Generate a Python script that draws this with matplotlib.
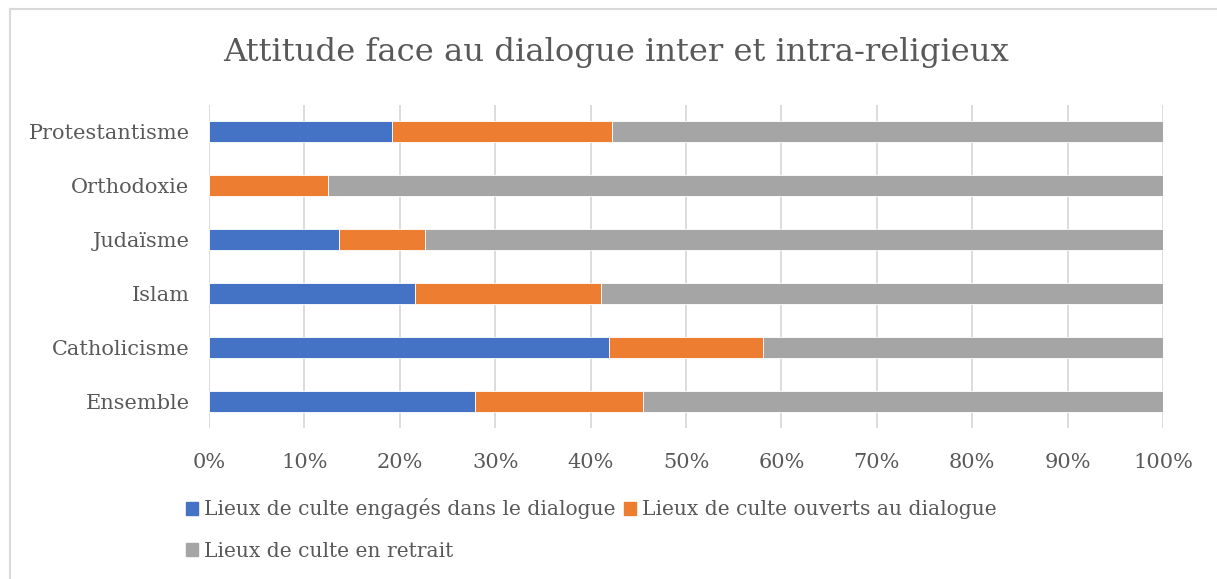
import matplotlib.pyplot as plt
from matplotlib.patches import Patch
from matplotlib.lines import Line2D
import numpy as np

categories = ['Ensemble', 'Catholicisme', 'Islam', 'Judaïsme', 'Orthodoxie', 'Protestantisme']
engages = [27.9, 41.9, 21.6, 13.6, 0.0, 19.2]
ouverts = [17.6, 16.2, 19.5, 9.0, 12.5, 23.0]
retrait = [54.5, 41.9, 58.9, 77.4, 87.5, 57.8]
series_names = ['Lieux de culte engagés dans le dialogue',
                'Lieux de culte ouverts au dialogue',
                'Lieux de culte en retrait']
colors = ['#4472C4', '#ED7D31', '#A5A5A5']
text_color = '#595959'

plt.rcParams['font.family'] = ['DejaVu Serif']

fig = plt.figure(figsize=(12.17, 5.79), dpi=100)
ax = fig.add_axes([209 / 1217, 1 - 428 / 579, (1163 - 209) / 1217, (428 - 105) / 579])

y = np.arange(len(categories))
left = np.zeros(len(categories))
for vals, col in zip([engages, ouverts, retrait], colors):
    ax.barh(y, vals, left=left, height=0.39, color=col,
            edgecolor='white', linewidth=0.6, zorder=3)
    left = left + np.array(vals)

ax.set_xlim(0, 100)
ax.set_ylim(-0.5, len(categories) - 0.5)
ax.set_xticks(np.arange(0, 101, 10))
ax.set_xticklabels([f'{v}%' for v in range(0, 101, 10)])
ax.set_yticks(y)
ax.set_yticklabels(categories)
ax.grid(axis='x', color='#D9D9D9', linewidth=1.3, zorder=0)
for s in ax.spines.values():
    s.set_visible(False)
ax.tick_params(length=0, labelsize=15, colors=text_color)
ax.tick_params(axis='x', pad=18)
ax.tick_params(axis='y', pad=14)

fig.text(616 / 1217, 1 - 52 / 579, 'Attitude face au dialogue inter et intra-religieux',
         ha='center', va='center', fontsize=23.2, color=text_color)

handles = [Patch(color=c) for c in colors]
order = [0, 2, 1]
fig.legend([handles[i] for i in order], [series_names[i] for i in order],
           ncol=2, loc='upper left', bbox_to_anchor=(168 / 1217, 1 - 480 / 579),
           frameon=False, fontsize=14.6, handlelength=0.6, handleheight=0.6,
           handletextpad=0.3, columnspacing=0.4, labelspacing=1.1,
           labelcolor=text_color)

# chart frame (cropped)
fig.add_artist(Line2D([10 / 1217, 10 / 1217], [0, 1 - 9 / 579],
                      transform=fig.transFigure, color='#D9D9D9', linewidth=1.5))
fig.add_artist(Line2D([10 / 1217, 1], [1 - 9 / 579, 1 - 9 / 579],
                      transform=fig.transFigure, color='#D9D9D9', linewidth=1.5))

fig.savefig('out.png', dpi=100)
